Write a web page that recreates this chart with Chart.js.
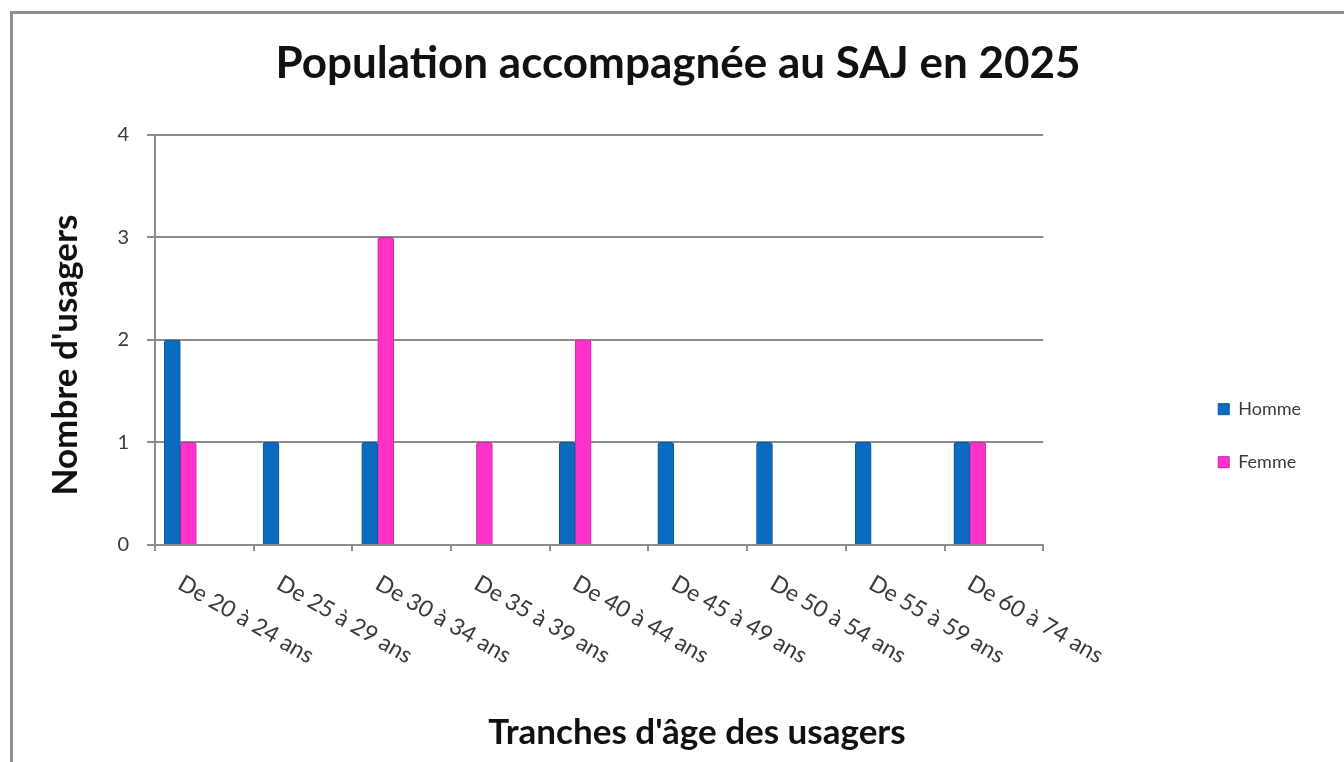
<!DOCTYPE html>
<html lang="fr">
<head>
<meta charset="utf-8">
<title>Population accompagnée au SAJ en 2025</title>
<script src="https://cdn.jsdelivr.net/npm/chart.js@4.4.1/dist/chart.umd.min.js"></script>
<style>
    html, body { margin: 0; padding: 0; background: #fff; }
    .frame {
        position: absolute; left: 10px; top: 11px; width: 1400px; height: 800px;
        border-top: 3px solid #8f8f8f; border-left: 3px solid #8f8f8f;
    }
    .wrap { position: absolute; left: 0; top: 0; width: 1344px; height: 762px; }
</style>
</head>
<body>
<div class="frame"></div>
<div class="wrap"><canvas id="sajChart" width="1344" height="762"></canvas></div>
<script>
// Tranches d'âge (catégories)
const ageGroups = ['De 20 à 24 ans', 'De 25 à 29 ans', 'De 30 à 34 ans', 'De 35 à 39 ans',
    'De 40 à 44 ans', 'De 45 à 49 ans', 'De 50 à 54 ans', 'De 55 à 59 ans', 'De 60 à 74 ans'];
// Nombre d'usagers par sexe
const hommes = [2, 1, 1, 0, 1, 1, 1, 1, 1];
const femmes = [1, 0, 3, 1, 2, 0, 0, 0, 1];
const yTicks = [0, 1, 2, 3, 4];

const FONT = 'Lato, "Open Sans", sans-serif';
const GRID = '#8c8c8c';

// slanted category labels + axis titles (placed like the Excel original)
const axisText = {
    id: 'axisText',
    afterDraw(chart) {
        const ctx = chart.ctx;
        const x = chart.scales.x;
        const base = chart.chartArea.bottom;
        ctx.save();
        ctx.font = '23px ' + FONT;
        ctx.fillStyle = '#3a3a3a';
        ctx.textAlign = 'left';
        ctx.textBaseline = 'alphabetic';
        ageGroups.forEach((label, i) => {
            const cx = x.getPixelForValue(i);
            ctx.save();
            ctx.translate(cx - 28, base + 43);
            ctx.rotate(30 * Math.PI / 180);
            ctx.fillText(label, 0, 0);
            ctx.restore();
        });

        ctx.font = 'bold 35px ' + FONT;
        ctx.fillStyle = '#111';
        ctx.textAlign = 'center';
        ctx.textBaseline = 'middle';
        ctx.fillText("Tranches d'âge des usagers", 697, 733);

        ctx.translate(66, 355);
        ctx.rotate(-Math.PI / 2);
        ctx.fillText("Nombre d'usagers", 0, 0);
        ctx.restore();
    }
};

const spacer = () => ({ label: '', data: [], backgroundColor: 'transparent' });

const ctx = document.getElementById('sajChart').getContext('2d');
const chart = new Chart(ctx, {
    type: 'bar',
    data: {
        labels: ageGroups,
        datasets: [
            { label: 'Homme', data: hommes, backgroundColor: '#0b6cbf', borderColor: '#08589c', borderWidth: 1, borderRadius: 3 },
            { label: 'Femme', data: femmes, backgroundColor: '#ff33cc', borderColor: '#cc27a3', borderWidth: 1, borderRadius: 3 },
            spacer(), spacer(), spacer()
        ]
    },
    plugins: [axisText],
    options: {
        responsive: false,
        animation: false,
        layout: { padding: { left: 45, right: 33, top: 12, bottom: 5 } },
        datasets: { bar: { barThickness: 16 } },
        plugins: {
            title: {
                display: true,
                text: 'Population accompagnée au SAJ en 2025',
                color: '#111',
                font: { family: FONT, size: 44, weight: 'bold' },
                padding: { top: 25, bottom: 45 }
            },
            legend: {
                position: 'right',
                title: { display: true, text: '', padding: { top: 88, bottom: 0 } },
                labels: {
                    color: '#3a3a3a',
                    font: { family: FONT, size: 18 },
                    boxWidth: 11,
                    boxHeight: 11,
                    padding: 35,
                    filter: item => item.text !== ''
                }
            },
            tooltip: { enabled: false }
        },
        scales: {
            x: {
                grid: { display: true, drawOnChartArea: false, drawTicks: true, tickLength: 6, offset: true, color: GRID, lineWidth: 2 },
                border: { display: true, color: GRID, width: 2 },
                ticks: { display: false },
                afterFit(scale) { scale.height = 212; }
            },
            y: {
                min: 0,
                max: 4,
                afterBuildTicks(scale) { scale.ticks = yTicks.map(v => ({ value: v })); },
                grid: { color: GRID, lineWidth: 2, tickLength: 8 },
                border: { display: true, color: GRID, width: 2 },
                ticks: { color: '#3a3a3a', font: { family: FONT, size: 20 }, padding: 18 },
                afterFit(scale) { scale.width = 110; }
            },
            y2: {
                position: 'right',
                min: 0,
                max: 4,
                grid: { display: false },
                border: { display: false },
                ticks: { display: false },
                afterFit(scale) { scale.width = 140; }
            }
        }
    }
});
</script>
</body>
</html>
